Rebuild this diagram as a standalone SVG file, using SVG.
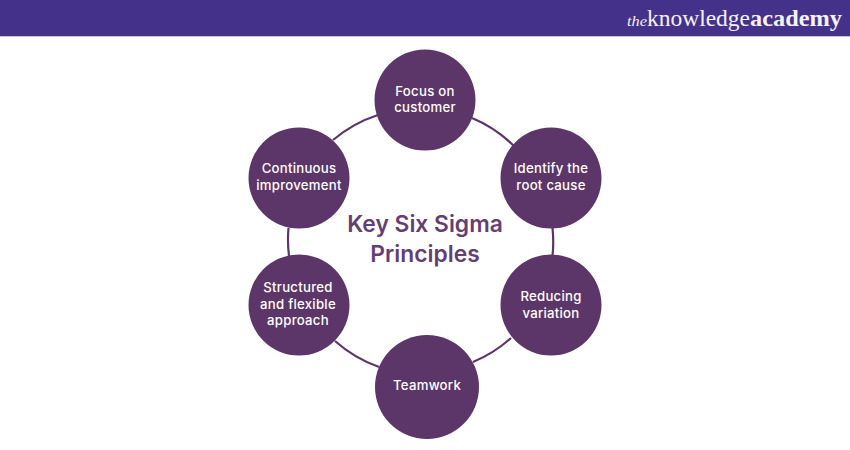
<svg xmlns="http://www.w3.org/2000/svg" width="850" height="450" viewBox="0 0 850 450">
<style>
.n{fill:#5c3569}
.l{font-family:"Inter","Liberation Sans",sans-serif;font-size:13.2px;letter-spacing:.25px;font-weight:500;fill:#fff;text-anchor:middle}
.t{font-family:"Inter","Liberation Sans",sans-serif;font-size:22.8px;font-weight:600;fill:#643f73;text-anchor:middle}
.c{fill:none;stroke:#5c3569;stroke-width:2.2}
.b{font-family:"Liberation Serif",serif;fill:#f4f2f8}
</style>
<rect width="850" height="36" fill="#44318a"/>
<rect y="36" width="850" height="1" fill="#c9c5da"/>
<g id="logo">
<text class="b" x="627" y="26" font-size="15" font-style="italic" textLength="20" lengthAdjust="spacingAndGlyphs">the</text>
<text class="b" x="647" y="26" font-size="23" textLength="103" lengthAdjust="spacingAndGlyphs">knowledge</text>
<text class="b" x="750" y="26" font-size="23" font-weight="700" textLength="92" lengthAdjust="spacingAndGlyphs">academy</text>
</g>
<g id="connectors">
<path class="c" d="M333 140A133 133 0 0 1 378 115"/>
<path class="c" d="M472 118A133 133 0 0 1 514 146"/>
<path class="c" d="M552.500 228A133 133 0 0 1 552.500 256"/>
<path class="c" d="M511 338A133 133 0 0 1 473 362"/>
<path class="c" d="M379 367A133 133 0 0 1 335 341"/>
<path class="c" d="M289 256A133 133 0 0 1 288.500 228"/>
</g>
<g id="node-focus"><circle class="n" cx="425" cy="100" r="50.500"/><text class="l" x="425" y="96">Focus on</text><text class="l" x="425" y="112">customer</text></g>
<g id="node-identify"><circle class="n" cx="551" cy="178" r="50.500"/><text class="l" x="551" y="173">Identify the</text><text class="l" x="551" y="190">root cause</text></g>
<g id="node-reducing"><circle class="n" cx="551" cy="305" r="50.500"/><text class="l" x="551" y="301">Reducing</text><text class="l" x="551" y="318">variation</text></g>
<g id="node-teamwork"><circle class="n" cx="427" cy="387" r="52"/><text class="l" x="427" y="390">Teamwork</text></g>
<g id="node-structured"><circle class="n" cx="299" cy="305" r="50.500"/><text class="l" x="298" y="292">Structured</text><text class="l" x="298" y="309">and flexible</text><text class="l" x="298" y="325">approach</text></g>
<g id="node-continuous"><circle class="n" cx="299" cy="178" r="50.500"/><text class="l" x="299" y="173">Continuous</text><text class="l" x="299" y="190">improvement</text></g>
<g id="center"><text class="t" x="425" y="232">Key Six Sigma</text><text class="t" x="425" y="262">Principles</text></g>
</svg>
